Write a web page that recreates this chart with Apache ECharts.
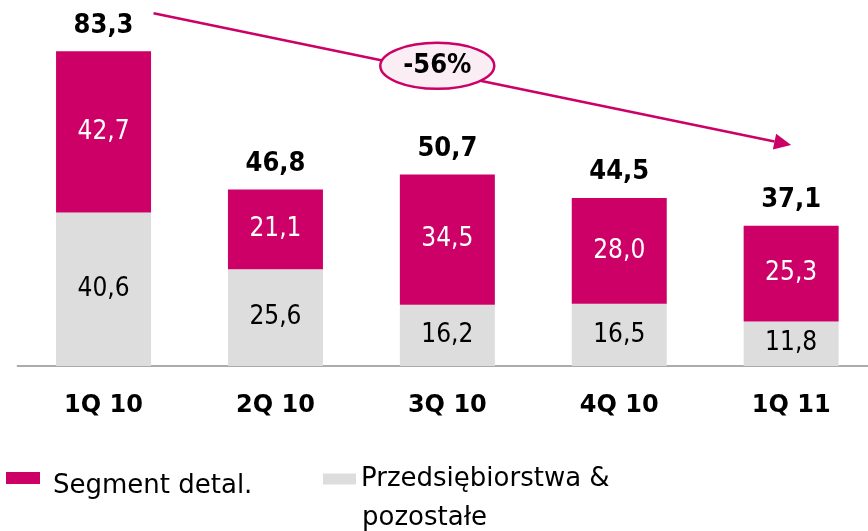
<!DOCTYPE html>
<html lang="pl">
<head>
<meta charset="UTF-8">
<title>Segment detal.</title>
<script src="https://cdn.jsdelivr.net/npm/echarts@6/dist/echarts.min.js"></script>
<style>html,body{margin:0;padding:0;background:#fff;overflow:hidden}</style>
</head>
<body>
<div id="chart" style="width:878px;height:531px;"></div>
<script>
var quarters = ['1Q 10', '2Q 10', '3Q 10', '4Q 10', '1Q 11'];
var detal = [42.7, 21.1, 34.5, 28.0, 25.3];
var pozostale = [40.6, 25.6, 16.2, 16.5, 11.8];
var totals = [83.3, 46.8, 50.7, 44.5, 37.1];
var changeLabel = '-56%';

var MAGENTA = '#CC0066';
var GREY = '#DDDDDD';
var FONT = 'DejaVu Sans';
var FONT_C = 'DejaVu Sans Condensed';

function fmt(v) { return v.toFixed(1).replace('.', ','); }

var chart = echarts.init(document.getElementById('chart'));

chart.setOption({
    animation: false,
    grid: { left: 17.6, right: 0.9, top: 26, bottom: 165 },
    legend: [{
        left: 1, top: 467,
        icon: 'rect', itemWidth: 34, itemHeight: 12,
        selectedMode: false,
        data: ['Segment detal.'],
        formatter: '{a|{name}}',
        textStyle: {
            rich: { a: { fontFamily: FONT, fontSize: 26, color: '#000', padding: [16, 0, 0, 8] } }
        }
    }, {
        left: 318, top: 461,
        icon: 'rect', itemWidth: 33, itemHeight: 11,
        selectedMode: false,
        data: ['Przedsiębiorstwa & pozostałe'],
        formatter: function () { return 'Przedsiębiorstwa &'; },
        textStyle: { fontFamily: FONT, fontSize: 26, color: '#000' }
    }],
    xAxis: {
        type: 'category',
        data: quarters,
        axisLine: { lineStyle: { color: '#ABABAB', width: 2 } },
        axisTick: { show: false },
        axisLabel: { fontFamily: FONT, fontWeight: 'bold', fontSize: 24, color: '#000', margin: 28 }
    },
    yAxis: { type: 'value', min: 0, max: 90, show: false, splitLine: { show: false } },
    series: [{
        name: 'Przedsiębiorstwa & pozostałe',
        type: 'bar', stack: 'a', barWidth: 95,
        data: pozostale,
        itemStyle: { color: GREY },
        label: {
            show: true, position: 'inside',
            fontFamily: FONT_C, fontSize: 26, color: '#000',
            formatter: function (p) { return fmt(p.value); }
        }
    }, {
        name: 'Segment detal.',
        type: 'bar', stack: 'a', barWidth: 95,
        data: detal,
        itemStyle: { color: MAGENTA },
        label: {
            show: true, position: 'inside',
            fontFamily: FONT_C, fontSize: 26, color: '#fff',
            formatter: function (p) { return fmt(p.value); }
        }
    }, {
        name: 'total',
        type: 'bar', stack: 'a', barWidth: 95,
        data: totals.map(function () { return 0; }),
        itemStyle: { color: 'transparent' },
        label: {
            show: true, position: 'top', distance: 12,
            fontFamily: FONT_C, fontWeight: 'bold', fontSize: 27, color: '#000',
            formatter: function (p) { return fmt(totals[p.dataIndex]); }
        },
        tooltip: { show: false }
    }]
});

// strzałka -56% zaczepiona o współrzędne osi
var p0 = chart.convertToPixel({ xAxisIndex: 0, yAxisIndex: 0 }, [0, 93.4]);
var p1 = chart.convertToPixel({ xAxisIndex: 0, yAxisIndex: 0 }, [4, 58.5]);
p0[0] += 50;
var dx = p1[0] - p0[0], dy = p1[1] - p0[1];
var len = Math.sqrt(dx * dx + dy * dy);
var ux = dx / len, uy = dy / len;
var headLen = 17, headW = 8;
var base = [p1[0] - ux * headLen, p1[1] - uy * headLen];
var t = 0.445;
var ec = [p0[0] + dx * t, p0[1] + dy * t - 6];

chart.setOption({
    graphic: [{
        type: 'line', z: 10,
        shape: { x1: p0[0], y1: p0[1], x2: base[0], y2: base[1] },
        style: { stroke: MAGENTA, lineWidth: 2.5 }
    }, {
        type: 'polygon', z: 10,
        shape: { points: [
            [p1[0], p1[1]],
            [base[0] - uy * headW, base[1] + ux * headW],
            [base[0] + uy * headW, base[1] - ux * headW]
        ] },
        style: { fill: MAGENTA }
    }, {
        type: 'ellipse', z: 11,
        shape: { cx: ec[0], cy: ec[1], rx: 57, ry: 23 },
        style: { fill: '#FAEEF4', stroke: MAGENTA, lineWidth: 2.5 }
    }, {
        type: 'text', z: 12,
        x: ec[0], y: ec[1],
        style: {
            text: changeLabel, fontFamily: FONT_C, fontWeight: 'bold', fontSize: 27,
            fill: '#000', align: 'center', verticalAlign: 'middle'
        }
    }, {
        type: 'text', z: 12,
        x: 362, y: 518,
        style: {
            text: 'pozostałe', fontFamily: FONT, fontSize: 26,
            fill: '#000', align: 'left', verticalAlign: 'middle'
        }
    }]
});
</script>
</body>
</html>
